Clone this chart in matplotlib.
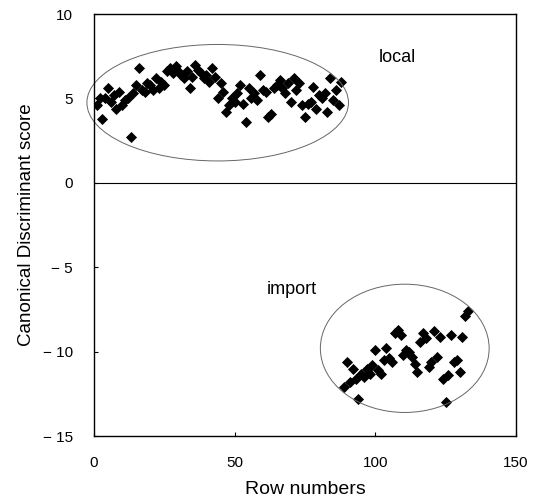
import numpy as np
import matplotlib
matplotlib.use("Agg")
import matplotlib.pyplot as plt
from matplotlib.patches import Ellipse

# =====================
# DATA
# =====================
local_rows = np.arange(1, 89)
local_scores = [
    4.6, 5.0, 3.8, 5.0, 5.6, 4.8, 5.2, 4.4, 5.4, 4.6,
    4.9, 5.0, 2.7, 5.3, 5.8, 6.8, 5.5, 5.4, 5.9, 5.8,
    5.5, 6.2, 5.6, 6.0, 5.8, 6.6, 6.8, 6.5, 6.9, 6.6,
    6.4, 6.2, 6.6, 5.6, 6.3, 7.0, 6.7, 6.5, 6.2, 6.4,
    6.0, 6.8, 6.3, 5.0, 5.9, 5.4, 4.2, 4.6, 5.0, 4.8,
    5.3, 5.8, 4.7, 3.6, 5.6, 5.0, 5.3, 4.9, 6.4, 5.5,
    5.4, 3.9, 4.1, 5.6, 5.8, 6.1, 5.6, 5.3, 5.9, 4.8,
    6.2, 5.5, 5.9, 4.6, 3.9, 4.7, 4.8, 5.7, 4.4, 5.2,
    5.0, 5.3, 4.2, 6.2, 4.9, 5.5, 4.6, 6.0,
]

import_rows = np.arange(89, 134)
import_scores = [
    -12.1, -10.6, -11.8, -11.0, -11.6, -12.8, -11.3, -11.5, -11.0, -11.3,
    -10.8, -9.9, -11.1, -11.3, -10.5, -9.8, -10.4, -10.6, -8.9, -8.7,
    -9.0, -10.2, -9.9, -10.0, -10.3, -10.7, -11.2, -9.4, -8.9, -9.2,
    -10.9, -10.6, -8.8, -10.3, -9.1, -11.6, -13.0, -11.4, -9.0, -10.6,
    -10.5, -11.2, -9.1, -7.9, -7.6,
]

# group outlines: (centre x, centre y, width, height)
groups = {
    "local": (44.0, 4.75, 93, 6.9),
    "import": (110.5, -9.8, 60, 7.6),
}
group_labels = {"local": (108, 7.4), "import": (70.5, -6.3)}

x_ticks = [0, 50, 100, 150]
y_ticks = [-15, -10, -5, 0, 5, 10]

# =====================
# PLOT
# =====================
plt.rcParams['font.family'] = ['Liberation Sans', 'DejaVu Sans']

fig = plt.figure(figsize=(5.43, 5.03), dpi=100)
ax = fig.add_axes([0.173, 0.133, 0.777, 0.839])

ax.scatter(local_rows, local_scores, marker='D', s=32, color='black', linewidths=0)
ax.scatter(import_rows, import_scores, marker='D', s=32, color='black', linewidths=0)

for name, (cx, cy, w, h) in groups.items():
    ax.add_patch(Ellipse((cx, cy), w, h, fill=False, edgecolor='#666666',
                         linewidth=0.7, clip_on=False))
    tx, ty = group_labels[name]
    ax.text(tx, ty, name, fontsize=13, ha='center', va='center')

ax.axhline(0, color='black', linewidth=0.8)

ax.set_xlim(0, 150)
ax.set_ylim(-15, 10)
ax.set_xticks(x_ticks)
ax.set_yticks(y_ticks)
ax.set_yticklabels([f"\u2212 {-v}" if v < 0 else str(v) for v in y_ticks])
ax.tick_params(direction='in', length=3, labelsize=11)
ax.tick_params(axis='x', pad=14)
ax.tick_params(axis='y', pad=15)
ax.set_xlabel("Row numbers", fontsize=14, labelpad=8)
ax.set_ylabel("Canonical Discriminant score", fontsize=13.5, labelpad=6)
for sp in ax.spines.values():
    sp.set_linewidth(1.0)

fig.savefig("out.png", dpi=100)
